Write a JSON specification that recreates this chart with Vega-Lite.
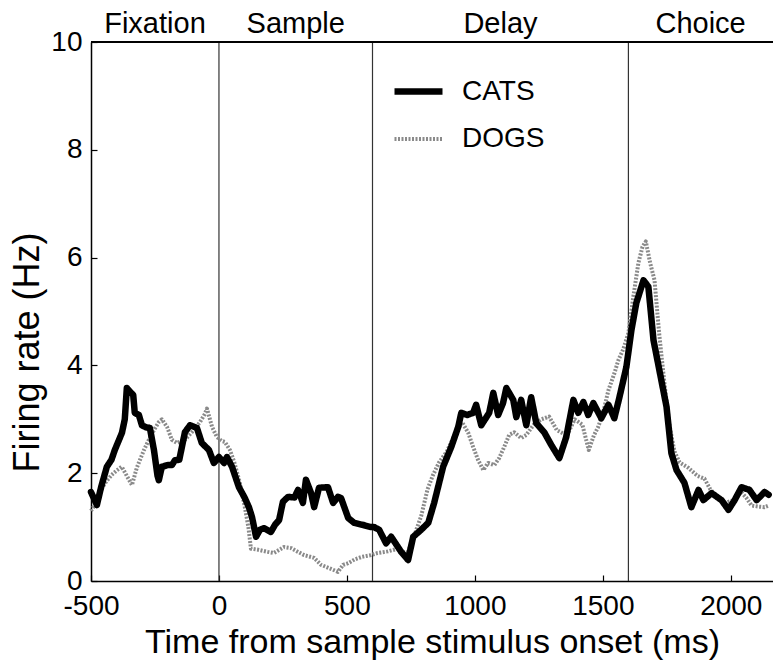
{
  "$schema": "https://vega.github.io/schema/vega-lite/v6.json",
  "width": 682,
  "height": 539,
  "autosize": {"type": "none"},
  "padding": {"left": 91, "top": 42, "right": 0, "bottom": 85},
  "background": "white",
  "config": {
    "font": "Liberation Sans",
    "view": {"stroke": null},
    "axis": {
      "domainColor": "black",
      "domainWidth": 1.5,
      "tickColor": "black",
      "tickWidth": 1.2,
      "tickSize": -6,
      "labelColor": "black",
      "labelFontSize": 28,
      "labelFont": "Liberation Sans",
      "titleFont": "Liberation Sans",
      "titleFontSize": 34,
      "titleFontWeight": "normal",
      "titleColor": "black",
      "grid": false
    }
  },
  "datasets": {
    "curves": [
      {"t": -500, "rate": 1.3, "series": "DOGS"},
      {"t": -480, "rate": 1.45, "series": "DOGS"},
      {"t": -460, "rate": 1.7, "series": "DOGS"},
      {"t": -440, "rate": 1.85, "series": "DOGS"},
      {"t": -419, "rate": 1.97, "series": "DOGS"},
      {"t": -400, "rate": 2.05, "series": "DOGS"},
      {"t": -380, "rate": 2.12, "series": "DOGS"},
      {"t": -360, "rate": 1.95, "series": "DOGS"},
      {"t": -340, "rate": 1.78, "series": "DOGS"},
      {"t": -321, "rate": 2.1, "series": "DOGS"},
      {"t": -293, "rate": 2.43, "series": "DOGS"},
      {"t": -274, "rate": 2.62, "series": "DOGS"},
      {"t": -254, "rate": 2.8, "series": "DOGS"},
      {"t": -235, "rate": 2.95, "series": "DOGS"},
      {"t": -223, "rate": 3.0, "series": "DOGS"},
      {"t": -203, "rate": 2.86, "series": "DOGS"},
      {"t": -184, "rate": 2.62, "series": "DOGS"},
      {"t": -164, "rate": 2.56, "series": "DOGS"},
      {"t": -133, "rate": 2.62, "series": "DOGS"},
      {"t": -106, "rate": 2.76, "series": "DOGS"},
      {"t": -74, "rate": 2.95, "series": "DOGS"},
      {"t": -55, "rate": 3.1, "series": "DOGS"},
      {"t": -47, "rate": 3.2, "series": "DOGS"},
      {"t": -27, "rate": 2.86, "series": "DOGS"},
      {"t": -8, "rate": 2.67, "series": "DOGS"},
      {"t": 10, "rate": 2.6, "series": "DOGS"},
      {"t": 23, "rate": 2.58, "series": "DOGS"},
      {"t": 43, "rate": 2.43, "series": "DOGS"},
      {"t": 60, "rate": 2.2, "series": "DOGS"},
      {"t": 80, "rate": 1.85, "series": "DOGS"},
      {"t": 100, "rate": 1.4, "series": "DOGS"},
      {"t": 115, "rate": 1.0, "series": "DOGS"},
      {"t": 125, "rate": 0.6, "series": "DOGS"},
      {"t": 153, "rate": 0.58, "series": "DOGS"},
      {"t": 191, "rate": 0.54, "series": "DOGS"},
      {"t": 215, "rate": 0.52, "series": "DOGS"},
      {"t": 254, "rate": 0.63, "series": "DOGS"},
      {"t": 282, "rate": 0.61, "series": "DOGS"},
      {"t": 309, "rate": 0.54, "series": "DOGS"},
      {"t": 333, "rate": 0.48, "series": "DOGS"},
      {"t": 372, "rate": 0.43, "series": "DOGS"},
      {"t": 399, "rate": 0.3, "series": "DOGS"},
      {"t": 430, "rate": 0.24, "series": "DOGS"},
      {"t": 465, "rate": 0.17, "series": "DOGS"},
      {"t": 485, "rate": 0.3, "series": "DOGS"},
      {"t": 505, "rate": 0.33, "series": "DOGS"},
      {"t": 530, "rate": 0.4, "series": "DOGS"},
      {"t": 560, "rate": 0.45, "series": "DOGS"},
      {"t": 594, "rate": 0.48, "series": "DOGS"},
      {"t": 620, "rate": 0.52, "series": "DOGS"},
      {"t": 660, "rate": 0.55, "series": "DOGS"},
      {"t": 700, "rate": 0.6, "series": "DOGS"},
      {"t": 735, "rate": 0.5, "series": "DOGS"},
      {"t": 760, "rate": 0.8, "series": "DOGS"},
      {"t": 790, "rate": 1.2, "series": "DOGS"},
      {"t": 815, "rate": 1.7, "series": "DOGS"},
      {"t": 835, "rate": 1.95, "series": "DOGS"},
      {"t": 860, "rate": 2.2, "series": "DOGS"},
      {"t": 890, "rate": 2.4, "series": "DOGS"},
      {"t": 920, "rate": 2.7, "series": "DOGS"},
      {"t": 950, "rate": 2.95, "series": "DOGS"},
      {"t": 974, "rate": 2.75, "series": "DOGS"},
      {"t": 993, "rate": 2.49, "series": "DOGS"},
      {"t": 1013, "rate": 2.24, "series": "DOGS"},
      {"t": 1033, "rate": 2.06, "series": "DOGS"},
      {"t": 1052, "rate": 2.19, "series": "DOGS"},
      {"t": 1076, "rate": 2.15, "series": "DOGS"},
      {"t": 1095, "rate": 2.28, "series": "DOGS"},
      {"t": 1115, "rate": 2.49, "series": "DOGS"},
      {"t": 1134, "rate": 2.71, "series": "DOGS"},
      {"t": 1154, "rate": 2.76, "series": "DOGS"},
      {"t": 1181, "rate": 2.65, "series": "DOGS"},
      {"t": 1201, "rate": 2.71, "series": "DOGS"},
      {"t": 1230, "rate": 2.9, "series": "DOGS"},
      {"t": 1260, "rate": 3.0, "series": "DOGS"},
      {"t": 1290, "rate": 3.05, "series": "DOGS"},
      {"t": 1320, "rate": 2.8, "series": "DOGS"},
      {"t": 1360, "rate": 2.7, "series": "DOGS"},
      {"t": 1390, "rate": 3.0, "series": "DOGS"},
      {"t": 1420, "rate": 2.9, "series": "DOGS"},
      {"t": 1445, "rate": 2.43, "series": "DOGS"},
      {"t": 1465, "rate": 2.7, "series": "DOGS"},
      {"t": 1482, "rate": 2.86, "series": "DOGS"},
      {"t": 1500, "rate": 3.1, "series": "DOGS"},
      {"t": 1522, "rate": 3.54, "series": "DOGS"},
      {"t": 1545, "rate": 3.85, "series": "DOGS"},
      {"t": 1561, "rate": 4.1, "series": "DOGS"},
      {"t": 1580, "rate": 4.3, "series": "DOGS"},
      {"t": 1600, "rate": 4.6, "series": "DOGS"},
      {"t": 1620, "rate": 5.3, "series": "DOGS"},
      {"t": 1639, "rate": 5.9, "series": "DOGS"},
      {"t": 1655, "rate": 6.2, "series": "DOGS"},
      {"t": 1668, "rate": 6.3, "series": "DOGS"},
      {"t": 1685, "rate": 5.9, "series": "DOGS"},
      {"t": 1702, "rate": 5.58, "series": "DOGS"},
      {"t": 1720, "rate": 4.6, "series": "DOGS"},
      {"t": 1740, "rate": 3.7, "series": "DOGS"},
      {"t": 1760, "rate": 2.9, "series": "DOGS"},
      {"t": 1780, "rate": 2.4, "series": "DOGS"},
      {"t": 1800, "rate": 2.2, "series": "DOGS"},
      {"t": 1834, "rate": 2.1, "series": "DOGS"},
      {"t": 1870, "rate": 1.95, "series": "DOGS"},
      {"t": 1897, "rate": 1.9, "series": "DOGS"},
      {"t": 1920, "rate": 1.7, "series": "DOGS"},
      {"t": 1950, "rate": 1.55, "series": "DOGS"},
      {"t": 1980, "rate": 1.45, "series": "DOGS"},
      {"t": 2010, "rate": 1.5, "series": "DOGS"},
      {"t": 2040, "rate": 1.65, "series": "DOGS"},
      {"t": 2060, "rate": 1.55, "series": "DOGS"},
      {"t": 2081, "rate": 1.4, "series": "DOGS"},
      {"t": 2110, "rate": 1.38, "series": "DOGS"},
      {"t": 2132, "rate": 1.37, "series": "DOGS"},
      {"t": 2148, "rate": 1.4, "series": "DOGS"},
      {"t": -500, "rate": 1.65, "series": "CATS"},
      {"t": -477, "rate": 1.41, "series": "CATS"},
      {"t": -460, "rate": 1.75, "series": "CATS"},
      {"t": -438, "rate": 2.12, "series": "CATS"},
      {"t": -420, "rate": 2.25, "series": "CATS"},
      {"t": -407, "rate": 2.43, "series": "CATS"},
      {"t": -379, "rate": 2.75, "series": "CATS"},
      {"t": -368, "rate": 3.0, "series": "CATS"},
      {"t": -360, "rate": 3.58, "series": "CATS"},
      {"t": -345, "rate": 3.5, "series": "CATS"},
      {"t": -335, "rate": 3.45, "series": "CATS"},
      {"t": -329, "rate": 3.12, "series": "CATS"},
      {"t": -313, "rate": 3.08, "series": "CATS"},
      {"t": -301, "rate": 2.89, "series": "CATS"},
      {"t": -285, "rate": 2.85, "series": "CATS"},
      {"t": -270, "rate": 2.84, "series": "CATS"},
      {"t": -254, "rate": 2.43, "series": "CATS"},
      {"t": -240, "rate": 1.95, "series": "CATS"},
      {"t": -235, "rate": 1.87, "series": "CATS"},
      {"t": -223, "rate": 2.12, "series": "CATS"},
      {"t": -200, "rate": 2.15, "series": "CATS"},
      {"t": -184, "rate": 2.15, "series": "CATS"},
      {"t": -172, "rate": 2.24, "series": "CATS"},
      {"t": -155, "rate": 2.25, "series": "CATS"},
      {"t": -133, "rate": 2.76, "series": "CATS"},
      {"t": -113, "rate": 2.89, "series": "CATS"},
      {"t": -86, "rate": 2.84, "series": "CATS"},
      {"t": -67, "rate": 2.56, "series": "CATS"},
      {"t": -39, "rate": 2.43, "series": "CATS"},
      {"t": -20, "rate": 2.19, "series": "CATS"},
      {"t": 0, "rate": 2.3, "series": "CATS"},
      {"t": 20, "rate": 2.19, "series": "CATS"},
      {"t": 31, "rate": 2.3, "series": "CATS"},
      {"t": 51, "rate": 2.12, "series": "CATS"},
      {"t": 78, "rate": 1.74, "series": "CATS"},
      {"t": 100, "rate": 1.55, "series": "CATS"},
      {"t": 117, "rate": 1.37, "series": "CATS"},
      {"t": 129, "rate": 1.19, "series": "CATS"},
      {"t": 145, "rate": 0.82, "series": "CATS"},
      {"t": 160, "rate": 0.95, "series": "CATS"},
      {"t": 176, "rate": 0.98, "series": "CATS"},
      {"t": 203, "rate": 0.91, "series": "CATS"},
      {"t": 220, "rate": 1.05, "series": "CATS"},
      {"t": 235, "rate": 1.13, "series": "CATS"},
      {"t": 250, "rate": 1.47, "series": "CATS"},
      {"t": 270, "rate": 1.56, "series": "CATS"},
      {"t": 295, "rate": 1.55, "series": "CATS"},
      {"t": 309, "rate": 1.69, "series": "CATS"},
      {"t": 328, "rate": 1.45, "series": "CATS"},
      {"t": 340, "rate": 1.88, "series": "CATS"},
      {"t": 360, "rate": 1.63, "series": "CATS"},
      {"t": 372, "rate": 1.37, "series": "CATS"},
      {"t": 391, "rate": 1.73, "series": "CATS"},
      {"t": 426, "rate": 1.74, "series": "CATS"},
      {"t": 446, "rate": 1.45, "series": "CATS"},
      {"t": 465, "rate": 1.56, "series": "CATS"},
      {"t": 477, "rate": 1.54, "series": "CATS"},
      {"t": 505, "rate": 1.17, "series": "CATS"},
      {"t": 528, "rate": 1.08, "series": "CATS"},
      {"t": 563, "rate": 1.04, "series": "CATS"},
      {"t": 595, "rate": 1.0, "series": "CATS"},
      {"t": 606, "rate": 1.0, "series": "CATS"},
      {"t": 626, "rate": 0.95, "series": "CATS"},
      {"t": 653, "rate": 0.7, "series": "CATS"},
      {"t": 673, "rate": 0.82, "series": "CATS"},
      {"t": 712, "rate": 0.54, "series": "CATS"},
      {"t": 739, "rate": 0.39, "series": "CATS"},
      {"t": 759, "rate": 0.82, "series": "CATS"},
      {"t": 790, "rate": 0.95, "series": "CATS"},
      {"t": 818, "rate": 1.08, "series": "CATS"},
      {"t": 841, "rate": 1.45, "series": "CATS"},
      {"t": 876, "rate": 2.12, "series": "CATS"},
      {"t": 908, "rate": 2.49, "series": "CATS"},
      {"t": 935, "rate": 2.86, "series": "CATS"},
      {"t": 947, "rate": 3.12, "series": "CATS"},
      {"t": 970, "rate": 3.08, "series": "CATS"},
      {"t": 993, "rate": 3.12, "series": "CATS"},
      {"t": 1005, "rate": 3.27, "series": "CATS"},
      {"t": 1025, "rate": 2.89, "series": "CATS"},
      {"t": 1056, "rate": 3.12, "series": "CATS"},
      {"t": 1072, "rate": 3.49, "series": "CATS"},
      {"t": 1091, "rate": 3.08, "series": "CATS"},
      {"t": 1110, "rate": 3.3, "series": "CATS"},
      {"t": 1123, "rate": 3.58, "series": "CATS"},
      {"t": 1150, "rate": 3.36, "series": "CATS"},
      {"t": 1162, "rate": 3.04, "series": "CATS"},
      {"t": 1181, "rate": 3.36, "series": "CATS"},
      {"t": 1201, "rate": 2.89, "series": "CATS"},
      {"t": 1220, "rate": 3.41, "series": "CATS"},
      {"t": 1240, "rate": 2.93, "series": "CATS"},
      {"t": 1272, "rate": 2.75, "series": "CATS"},
      {"t": 1299, "rate": 2.52, "series": "CATS"},
      {"t": 1330, "rate": 2.28, "series": "CATS"},
      {"t": 1357, "rate": 2.67, "series": "CATS"},
      {"t": 1385, "rate": 3.36, "series": "CATS"},
      {"t": 1404, "rate": 3.12, "series": "CATS"},
      {"t": 1424, "rate": 3.32, "series": "CATS"},
      {"t": 1443, "rate": 3.08, "series": "CATS"},
      {"t": 1463, "rate": 3.3, "series": "CATS"},
      {"t": 1494, "rate": 3.02, "series": "CATS"},
      {"t": 1522, "rate": 3.27, "series": "CATS"},
      {"t": 1545, "rate": 3.02, "series": "CATS"},
      {"t": 1565, "rate": 3.41, "series": "CATS"},
      {"t": 1592, "rate": 3.97, "series": "CATS"},
      {"t": 1612, "rate": 4.66, "series": "CATS"},
      {"t": 1631, "rate": 5.16, "series": "CATS"},
      {"t": 1659, "rate": 5.58, "series": "CATS"},
      {"t": 1678, "rate": 5.46, "series": "CATS"},
      {"t": 1698, "rate": 4.47, "series": "CATS"},
      {"t": 1721, "rate": 3.91, "series": "CATS"},
      {"t": 1749, "rate": 3.23, "series": "CATS"},
      {"t": 1768, "rate": 2.37, "series": "CATS"},
      {"t": 1788, "rate": 2.06, "series": "CATS"},
      {"t": 1819, "rate": 1.82, "series": "CATS"},
      {"t": 1846, "rate": 1.37, "series": "CATS"},
      {"t": 1874, "rate": 1.69, "series": "CATS"},
      {"t": 1893, "rate": 1.5, "series": "CATS"},
      {"t": 1925, "rate": 1.63, "series": "CATS"},
      {"t": 1964, "rate": 1.5, "series": "CATS"},
      {"t": 1991, "rate": 1.32, "series": "CATS"},
      {"t": 2015, "rate": 1.5, "series": "CATS"},
      {"t": 2042, "rate": 1.74, "series": "CATS"},
      {"t": 2073, "rate": 1.69, "series": "CATS"},
      {"t": 2101, "rate": 1.5, "series": "CATS"},
      {"t": 2132, "rate": 1.65, "series": "CATS"},
      {"t": 2148, "rate": 1.6, "series": "CATS"}
    ],
    "epochs": [
      {"start": 0},
      {"start": 600},
      {"start": 1600}
    ],
    "phases": [
      {"mid": -250, "phase": "Fixation"},
      {"mid": 300, "phase": "Sample"},
      {"mid": 1100, "phase": "Delay"},
      {"mid": 1882, "phase": "Choice"}
    ]
  },
  "layer": [
    {
      "data": {"name": "epochs"},
      "mark": {"type": "rule", "color": "#333", "strokeWidth": 1.2},
      "encoding": {
        "x": {"field": "start", "type": "quantitative", "scale": {"domain": [-500, 2165], "nice": false, "zero": false}}
      }
    },
    {
      "data": {"name": "phases"},
      "mark": {"type": "rule", "color": "black", "strokeWidth": 1.5},
      "encoding": {"y": {"datum": 10}}
    },
    {
      "data": {"name": "phases"},
      "mark": {"type": "text", "fontSize": 29, "font": "Liberation Sans", "color": "black", "baseline": "alphabetic", "align": "center", "dy": -9},
      "encoding": {
        "x": {"field": "mid", "type": "quantitative"},
        "y": {"datum": 10},
        "text": {"field": "phase"}
      }
    },
    {
      "data": {"name": "curves"},
      "transform": [{"filter": "datum.series === 'DOGS'"}],
      "mark": {"type": "line", "strokeJoin": "round"},
      "encoding": {
        "x": {"field": "t", "type": "quantitative"},
        "y": {"field": "rate", "type": "quantitative"},
        "color": {"field": "series", "type": "nominal"},
        "strokeWidth": {"field": "series", "type": "nominal"},
        "strokeDash": {"field": "series", "type": "nominal"}
      }
    },
    {
      "data": {"name": "curves"},
      "transform": [{"filter": "datum.series === 'CATS'"}],
      "mark": {"type": "line", "strokeJoin": "round", "strokeCap": "round"},
      "encoding": {
        "x": {
          "field": "t", "type": "quantitative",
          "scale": {"domain": [-500, 2165], "nice": false, "zero": false},
          "axis": {"values": [-500, 0, 500, 1000, 1500, 2000], "labelExpr": "'' + datum.value", "labelPadding": 17, "title": "Time from sample stimulus onset (ms)", "titleBaseline": "alphabetic", "titleY": 71, "labelFlush": false, "labelOverlap": false}
        },
        "y": {
          "field": "rate", "type": "quantitative",
          "scale": {"domain": [0, 10], "nice": false},
          "axis": {"values": [0, 2, 4, 6, 8, 10], "labelPadding": 15, "title": "Firing rate  (Hz)", "titleFontSize": 36, "titleAngle": -90, "titleBaseline": "middle", "titleX": -64, "titleY": 310, "titleAlign": "center", "labelOverlap": false}
        },
        "color": {
          "field": "series", "type": "nominal",
          "scale": {"domain": ["CATS", "DOGS"], "range": ["black", "#8a8a8a"]},
          "legend": {"title": null, "orient": "none", "legendX": 300, "legendY": 22, "symbolType": "stroke", "symbolSize": 2304, "labelFontSize": 28, "labelFont": "Liberation Sans", "labelColor": "black", "labelOffset": 16, "rowPadding": 7, "padding": 0}
        },
        "strokeWidth": {
          "field": "series", "type": "nominal",
          "scale": {"domain": ["CATS", "DOGS"], "range": [6.5, 4]},
          "legend": {"title": null, "orient": "none", "legendX": 300, "legendY": 22, "symbolType": "stroke", "symbolSize": 2304, "labelFontSize": 28, "labelFont": "Liberation Sans", "labelColor": "black", "labelOffset": 16, "rowPadding": 7, "padding": 0}
        },
        "strokeDash": {
          "field": "series", "type": "nominal",
          "scale": {"domain": ["CATS", "DOGS"], "range": [[1, 0], [2, 1.5]]},
          "legend": {"title": null, "orient": "none", "legendX": 300, "legendY": 22, "symbolType": "stroke", "symbolSize": 2304, "labelFontSize": 28, "labelFont": "Liberation Sans", "labelColor": "black", "labelOffset": 16, "rowPadding": 7, "padding": 0}
        }
      }
    }
  ]
}
